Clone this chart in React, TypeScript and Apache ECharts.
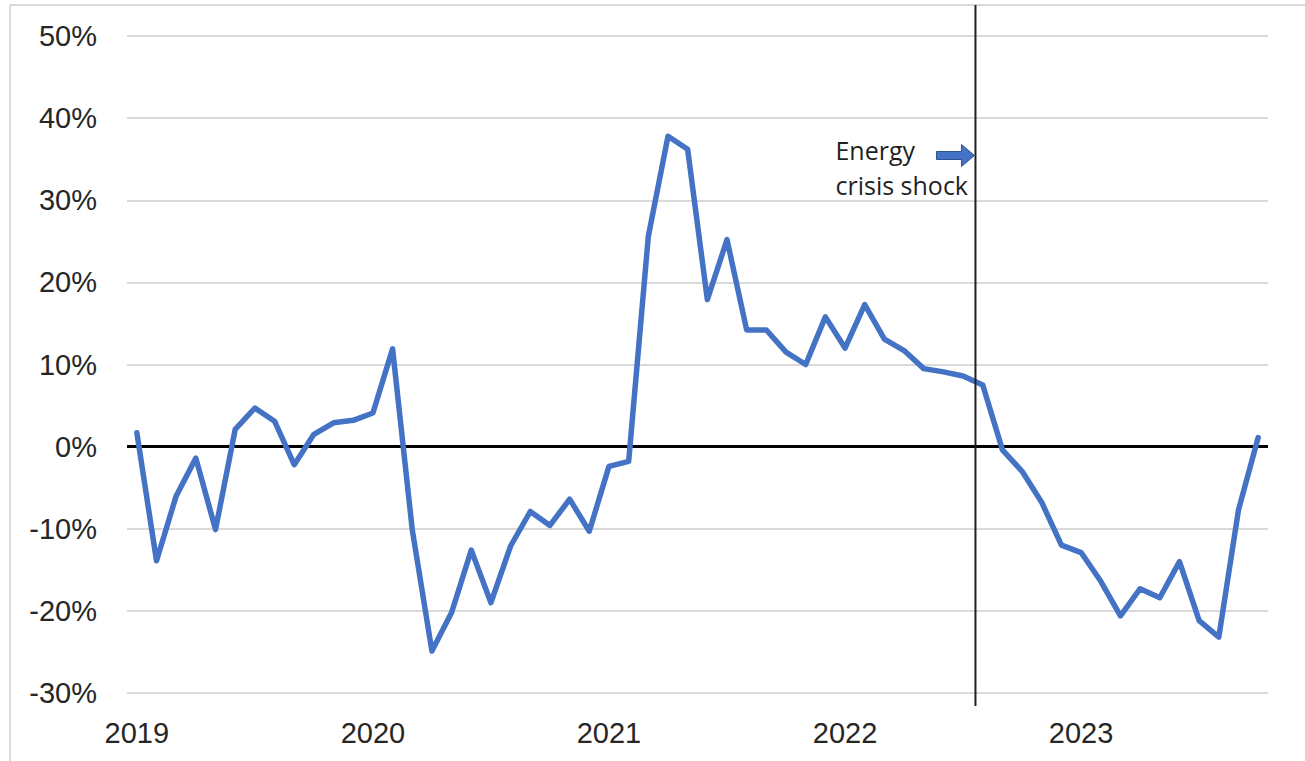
import React, { useEffect, useRef } from "react";
import * as echarts from "echarts";

const months = [
  "2019-01","2019-02","2019-03","2019-04","2019-05","2019-06","2019-07","2019-08","2019-09","2019-10","2019-11","2019-12",
  "2020-01","2020-02","2020-03","2020-04","2020-05","2020-06","2020-07","2020-08","2020-09","2020-10","2020-11","2020-12",
  "2021-01","2021-02","2021-03","2021-04","2021-05","2021-06","2021-07","2021-08","2021-09","2021-10","2021-11","2021-12",
  "2022-01","2022-02","2022-03","2022-04","2022-05","2022-06","2022-07","2022-08","2022-09","2022-10","2022-11","2022-12",
  "2023-01","2023-02","2023-03","2023-04","2023-05","2023-06","2023-07","2023-08","2023-09","2023-10",
];

const values = [
  1.7, -13.9, -6.0, -1.4, -10.1, 2.1, 4.7, 3.1, -2.2, 1.5, 2.9, 3.2,
  4.1, 11.9, -10.1, -24.9, -20.2, -12.6, -19.0, -12.1, -7.9, -9.6, -6.4, -10.3,
  -2.4, -1.8, 25.6, 37.8, 36.2, 17.9, 25.2, 14.2, 14.2, 11.5, 10.0, 15.8,
  12.0, 17.3, 13.1, 11.7, 9.5, 9.1, 8.6, 7.5, -0.4, -3.0, -6.8, -12.0,
  -12.9, -16.4, -20.6, -17.3, -18.4, -14.0, -21.2, -23.2, -7.7, 1.1,
];

const yearLabels = ["2019", "2020", "2021", "2022", "2023"];
const yMin = -30;
const yMax = 50;
const yStep = 10;
// position of the energy-crisis marker, in month index units (between Jul and Aug 2022)
const shockIndex = 42.63;
const annotationLines = ["Energy", "crisis shock"];

export default function App() {
  const ref = useRef<HTMLDivElement>(null);

  useEffect(() => {
    if (!ref.current) return;
    const chart = echarts.init(ref.current, null, { renderer: "svg" });
    const textColor = "#262626";
    chart.setOption({
      animation: false,
      backgroundColor: "#ffffff",
      grid: { left: 127, top: 36, width: 1141, height: 657 },
      xAxis: {
        type: "category",
        data: months,
        boundaryGap: true,
        axisLine: { show: false },
        axisTick: { show: false },
        splitLine: { show: false },
        axisLabel: {
          interval: (idx: number) => idx % 12 === 0,
          formatter: (v: string) => {
            const y = v.slice(0, 4);
            return yearLabels.includes(y) ? y : "";
          },
          fontSize: 29,
          fontFamily: "Liberation Sans",
          color: textColor,
          margin: 25,
        },
      },
      yAxis: {
        type: "value",
        min: yMin,
        max: yMax,
        interval: yStep,
        axisLine: { show: false },
        axisTick: { show: false },
        splitLine: { lineStyle: { color: "#d9d9d9", width: 2 } },
        axisLabel: {
          formatter: (v: number) => `${v}%`,
          fontSize: 29,
          fontFamily: "Liberation Sans",
          color: textColor,
          margin: 30,
        },
      },
      series: [
        {
          type: "line",
          data: values,
          symbol: "none",
          lineStyle: { color: "#4472C4", width: 5.5, join: "round", cap: "round" },
          markLine: {
            silent: true,
            symbol: "none",
            label: { show: false },
            lineStyle: { color: "#000000", width: 3, type: "solid" },
            data: [{ yAxis: 0 }],
            z: 1,
          },
          z: 3,
        },
      ],
    });

    const x0 = chart.convertToPixel({ xAxisIndex: 0 }, Math.floor(shockIndex)) as number;
    const x1 = chart.convertToPixel({ xAxisIndex: 0 }, Math.floor(shockIndex) + 1) as number;
    const lx = x0 + (x1 - x0) * (shockIndex - Math.floor(shockIndex));
    const arrowY = 155.5;

    chart.setOption({
      graphic: [
        { type: "line", shape: { x1: 10, y1: 5, x2: 1305, y2: 5 }, style: { stroke: "#d9d9d9", lineWidth: 2 } },
        { type: "line", shape: { x1: 10, y1: 5, x2: 10, y2: 761 }, style: { stroke: "#d9d9d9", lineWidth: 2 } },
        { type: "line", shape: { x1: lx, y1: 5, x2: lx, y2: 706 }, style: { stroke: "#1f1f1f", lineWidth: 2 }, z: 10 },
        {
          type: "polygon",
          shape: {
            points: [
              [lx - 39, arrowY - 4],
              [lx - 14, arrowY - 4],
              [lx - 14, arrowY - 11],
              [lx - 1, arrowY],
              [lx - 14, arrowY + 11],
              [lx - 14, arrowY + 4],
              [lx - 39, arrowY + 4],
            ],
          },
          style: { fill: "#4472C4", stroke: "#2F528F", lineWidth: 1 },
          z: 10,
        },
        {
          type: "text",
          x: lx - 140,
          y: 167.5,
          style: {
            text: annotationLines.join("\n"),
            fontSize: 25,
            lineHeight: 35,
            fontFamily: "Open Sans",
            fill: "#1f1f1f",
            verticalAlign: "middle",
            align: "left",
          },
          z: 10,
        },
      ],
    });

    return () => chart.dispose();
  }, []);

  return (
    <div
      ref={ref}
      style={{ position: "fixed", left: 0, top: 0, width: 1305, height: 761, background: "#fff" }}
    />
  );
}
